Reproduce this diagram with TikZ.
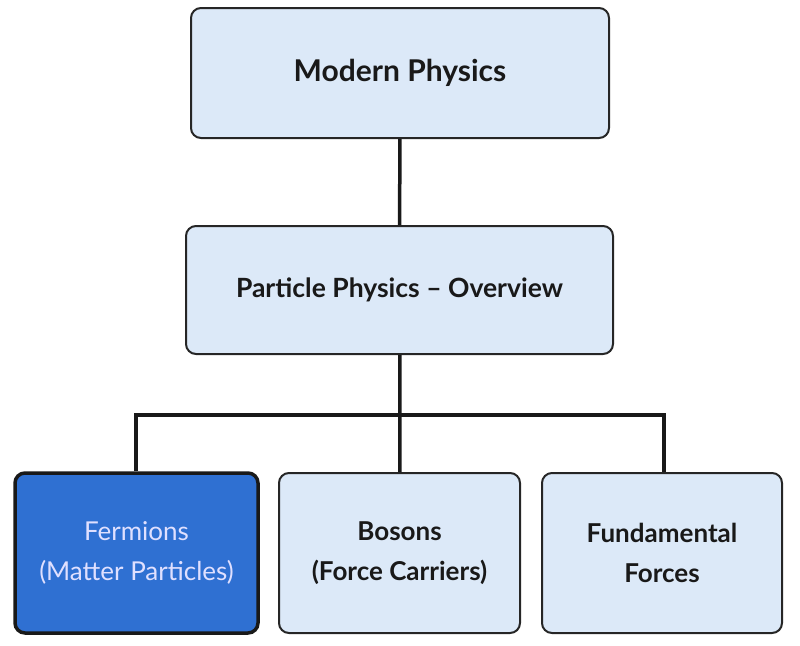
\documentclass[tikz,border=0pt]{standalone}
\usepackage{fontspec}
\setmainfont{Lato}
\begin{document}
\begin{tikzpicture}[x=1pt,y=-1pt,
  box/.style={draw=black!85,line width=2pt,rounded corners=10pt,fill=boxfill,align=center,text=black!90},
  conn/.style={line width=3.5pt,black!90}]
\definecolor{boxfill}{HTML}{DCE9F8}
\definecolor{darkfill}{HTML}{2F70D2}
\useasboundingbox (0,0) rectangle (800,645);
\node[box,minimum width=418pt,minimum height=130pt,font=\bfseries\fontsize{30}{34}\selectfont] (mp) at (400,73) {Modern Physics};
\node[box,minimum width=427pt,minimum height=128pt,font=\bfseries\fontsize{26.5}{30}\selectfont] (pp) at (399.5,290) {Particle Physics -- Overview};
\node[box,fill=darkfill,draw=black!90,line width=3.5pt,text=white!88!blue,minimum width=243pt,minimum height=160pt,font=\fontsize{26}{40}\selectfont] (fe) at (136.5,553) {Fermions\\(Matter Particles)};
\node[box,minimum width=241pt,minimum height=160pt,font=\bfseries\fontsize{26}{40}\selectfont] (bo) at (399.5,553) {Bosons\\(Force Carriers)};
\node[box,minimum width=240pt,minimum height=160pt,font=\bfseries\fontsize{26}{40}\selectfont] (fu) at (662,553) {Fundamental\\Forces};
\coordinate (j) at (400,415);
\draw[conn] (mp) -- (pp);
\draw[conn] (pp) -- (j);
\draw[conn] (fe.north -| 136,0) |- (j) -| (fu.north -| 664,0);
\draw[conn] (j) -- (bo);
\end{tikzpicture}
\end{document}
